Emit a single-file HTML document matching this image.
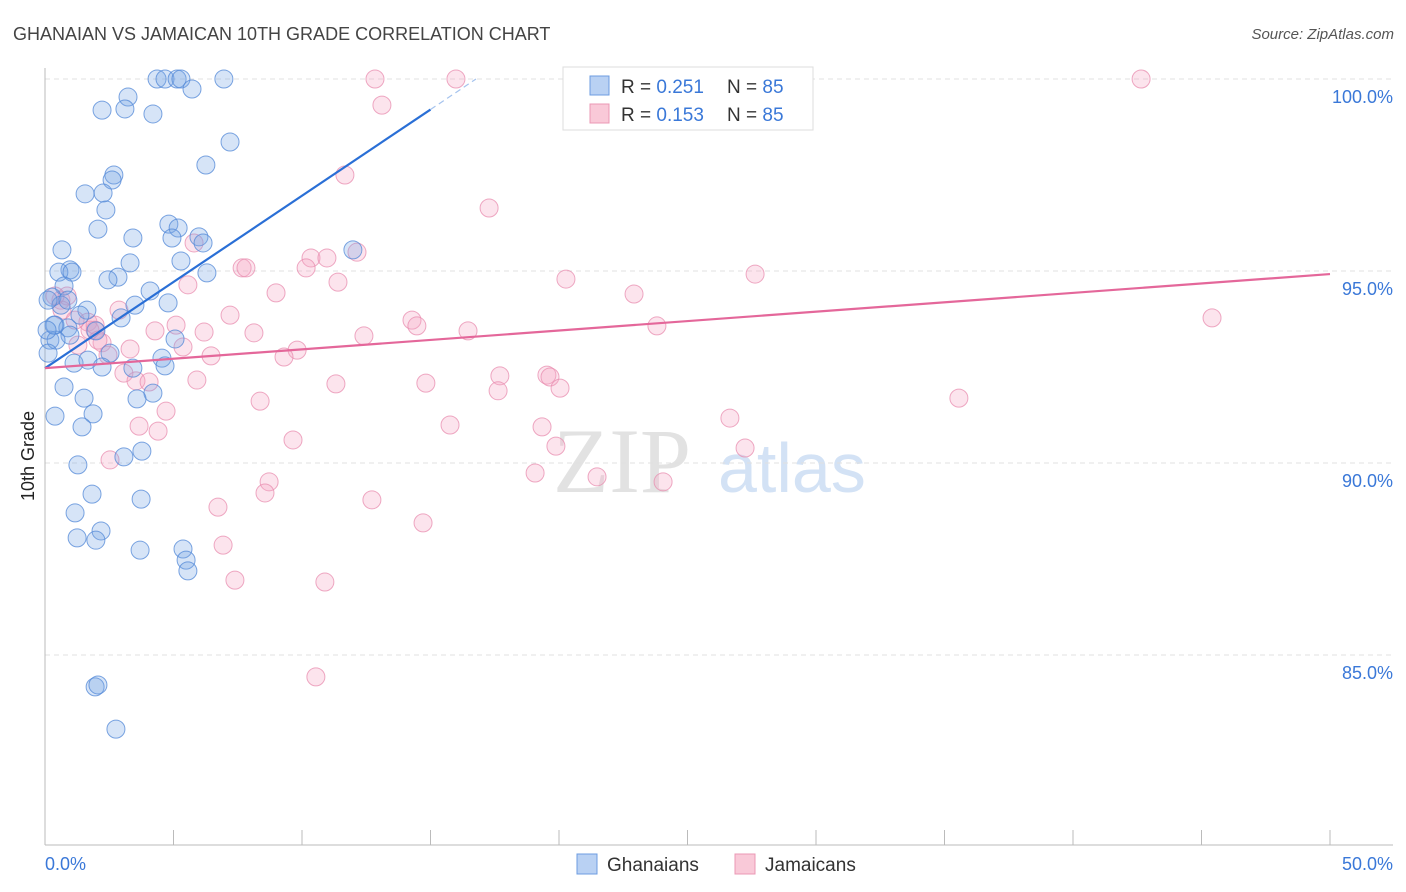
<!DOCTYPE html>
<html><head><meta charset="utf-8"><style>
body{margin:0;background:#fff;font-family:"Liberation Sans",sans-serif}
svg{display:block}
</style></head><body>
<svg id="chart" width="1406" height="892">
<text x="13" y="40" font-size="18" fill="#444">GHANAIAN VS JAMAICAN 10TH GRADE CORRELATION CHART</text>
<text x="1394" y="39" font-size="15" fill="#555" font-style="italic" text-anchor="end">Source: ZipAtlas.com</text>
<g><text x="553" y="492" font-size="92" fill="#e2e2e2" font-family="Liberation Serif,serif">ZIP</text><text x="718" y="492" font-size="70" fill="#d3e2f5">atlas</text></g>
<text transform="translate(34,456) rotate(-90)" font-size="18" fill="#222" text-anchor="middle">10th Grade</text>
<g id="grid"></g><g id="axes"></g><g id="pts"></g><g id="lines"></g>
<g>
<rect x="563" y="67" width="250" height="63" fill="#fff" stroke="#ddd"/>
<rect x="590" y="76" width="19" height="19" fill="#b9d1f3" stroke="#6d9ce0"/>
<rect x="590" y="104" width="19" height="19" fill="#f9c9d8" stroke="#eb98b4"/>
<text x="621" y="93" font-size="19" fill="#333">R = <tspan fill="#3a78d8">0.251</tspan><tspan x="727">N = </tspan><tspan fill="#3a78d8">85</tspan></text>
<text x="621" y="121" font-size="19" fill="#333">R = <tspan fill="#3a78d8">0.153</tspan><tspan x="727">N = </tspan><tspan fill="#3a78d8">85</tspan></text>
</g>
<g>
<rect x="577" y="854" width="20" height="20" fill="#b9d1f3" stroke="#6d9ce0"/>
<text x="607" y="871" font-size="19" fill="#333">Ghanaians</text>
<rect x="735" y="854" width="20" height="20" fill="#f9c9d8" stroke="#eb98b4"/>
<text x="765" y="871" font-size="19" fill="#333">Jamaicans</text>
</g>
</svg>
<script>
const yTicks=[100,95,90,85];
const yTickLabels=["100.0%","95.0%","90.0%","85.0%"];
const xTickLabels=["0.0%","50.0%"];
const blueX=[4.36,4.67,5.14,5.29,6.96,5.72,3.23,2.22,3.11,4.20,7.20,6.26,2.68,2.61,1.56,2.26,2.37,2.06,4.82,5.18,3.42,4.94,5.99,6.15,11.98,0.66,5.29,3.31,0.97,0.54,1.05,2.84,6.30,2.45,0.74,4.09,0.27,4.79,3.50,0.62,1.63,1.36,2.96,0.39,0.89,1.98,0.97,5.06,0.19,0.43,2.53,0.12,4.55,1.13,3.42,1.67,2.22,4.67,0.74,4.20,3.58,1.52,0.39,1.87,1.44,3.07,3.77,1.28,1.83,3.74,1.17,2.18,1.25,1.98,3.70,5.37,5.49,5.56,1.95,2.06,2.76,0.12,0.35,0.89,0.08];
const blueY=[100,100,100,100,100,99.74,99.53,99.19,99.22,99.09,98.36,97.76,97.50,97.37,97.01,97.03,96.59,96.09,96.22,96.12,95.86,95.86,95.89,95.73,95.55,95.55,95.26,95.21,95.03,94.97,94.97,94.84,94.95,94.77,94.61,94.48,94.32,94.17,94.11,94.11,93.98,93.85,93.78,93.59,93.52,93.44,93.33,93.23,93.20,93.20,92.86,92.86,92.73,92.60,92.47,92.68,92.50,92.53,91.98,91.82,91.67,91.69,91.22,91.28,90.94,90.16,90.31,89.95,89.19,89.06,88.70,88.23,88.05,87.99,87.73,87.76,87.47,87.19,84.17,84.22,83.07,94.24,93.59,94.24,93.46];
const pinkX=[12.84,15.99,26.50,42.65,13.11,11.67,17.28,12.14,10.35,10.97,5.80,7.67,7.82,10.16,27.63,20.27,11.40,5.56,8.99,22.92,7.20,0.62,0.86,2.88,1.67,1.95,5.10,4.28,6.19,8.13,12.41,14.28,14.47,16.46,23.81,45.41,2.22,3.31,5.37,9.81,1.28,6.46,9.30,2.45,3.07,17.70,19.53,19.65,5.91,3.54,4.05,11.32,14.82,20.04,17.63,35.56,8.37,4.71,3.66,4.40,9.65,15.76,19.34,26.65,19.88,27.24,2.53,19.07,21.48,24.05,8.72,8.56,12.72,6.73,14.71,6.93,7.39,10.89,10.54,1.75,0.66,1.17,0.39,2.06,1.95];
const pinkY=[100,100,100,100,99.32,97.5,96.64,95.49,95.34,95.34,95.73,95.08,95.08,95.08,94.92,94.79,94.71,94.64,94.43,94.40,93.85,94.24,94.35,93.98,93.67,93.46,93.59,93.44,93.41,93.39,93.31,93.72,93.57,93.44,93.57,93.78,93.13,92.97,93.02,92.94,93.07,92.79,92.76,92.81,92.34,92.27,92.29,92.24,92.16,92.14,92.11,92.06,92.08,91.95,91.88,91.69,91.61,91.35,90.96,90.83,90.60,90.99,90.94,91.17,90.44,90.39,90.08,89.74,89.64,89.51,89.51,89.22,89.04,88.85,88.44,87.86,86.95,86.90,84.43,93.46,93.98,93.72,94.35,93.20,93.59];
const blueTrend=[92.47,0.449];
const pinkTrend=[92.47,0.049];
const NS="http://www.w3.org/2000/svg";
const sx=v=>45+v*25.7, sy=v=>79+(100-v)*38.4;
function mk(t,a,p){const e=document.createElementNS(NS,t);for(const k in a)e.setAttribute(k,a[k]);p.appendChild(e);return e;}
const grid=document.getElementById('grid'),axes=document.getElementById('axes'),pts=document.getElementById('pts'),lines=document.getElementById('lines');
yTicks.forEach((t,i)=>{
 const l=mk('line',{x1:45,x2:1393,y1:sy(t),y2:sy(t),stroke:'#e0e0e0','stroke-dasharray':'5,4'},grid);
 
 
 const tx=mk('text',{x:1393,y:sy(t)+24,'font-size':18,fill:'#3a78d8','text-anchor':'end'},axes);
 tx.textContent=yTickLabels[i];
 
 
});
mk('line',{x1:45,x2:45,y1:68,y2:845,stroke:'#bbb'},axes);
mk('line',{x1:45,x2:1393,y1:845,y2:845,stroke:'#bbb'},axes);
for(let i=1;i<=10;i++){const x=sx(i*5);const t=mk('line',{x1:x,x2:x,y1:830,y2:845,stroke:'#bbb'},axes);
 
 }
[[0,45,'start'],[1,1393,'end']].forEach(([i,x,a])=>{const t=mk('text',{x:x,y:870,'font-size':18,fill:'#3a78d8','text-anchor':a},axes);t.textContent=xTickLabels[i];
 
 });
function dots(X,Y,fill,stroke,name){X.forEach((x,i)=>{const c=mk('circle',{cx:sx(x),cy:sy(Y[i]),r:9,fill:fill,stroke:stroke,'stroke-width':1},pts);
 
 });}
dots(pinkX,pinkY,'rgba(244,165,195,0.3)','rgba(232,140,175,0.75)','jamaican-point');
dots(blueX,blueY,'rgba(120,165,230,0.3)','rgba(80,135,215,0.75)','ghanaian-point');
const bEnd=(100-blueTrend[0])/blueTrend[1];
let bl=mk('line',{x1:sx(0),y1:sy(blueTrend[0]),x2:sx(15),y2:sy(blueTrend[0]+15*blueTrend[1]),stroke:'#2a6fd6','stroke-width':2.2},lines);


mk('line',{x1:sx(15),y1:sy(blueTrend[0]+15*blueTrend[1]),x2:sx(bEnd),y2:sy(100),stroke:'#a5c3ee','stroke-width':1.2,'stroke-dasharray':'6,4'},lines);
let pl=mk('line',{x1:sx(0),y1:sy(pinkTrend[0]),x2:sx(50),y2:sy(pinkTrend[0]+50*pinkTrend[1]),stroke:'#e4679a','stroke-width':2.2},lines);


</script>
</body></html>
